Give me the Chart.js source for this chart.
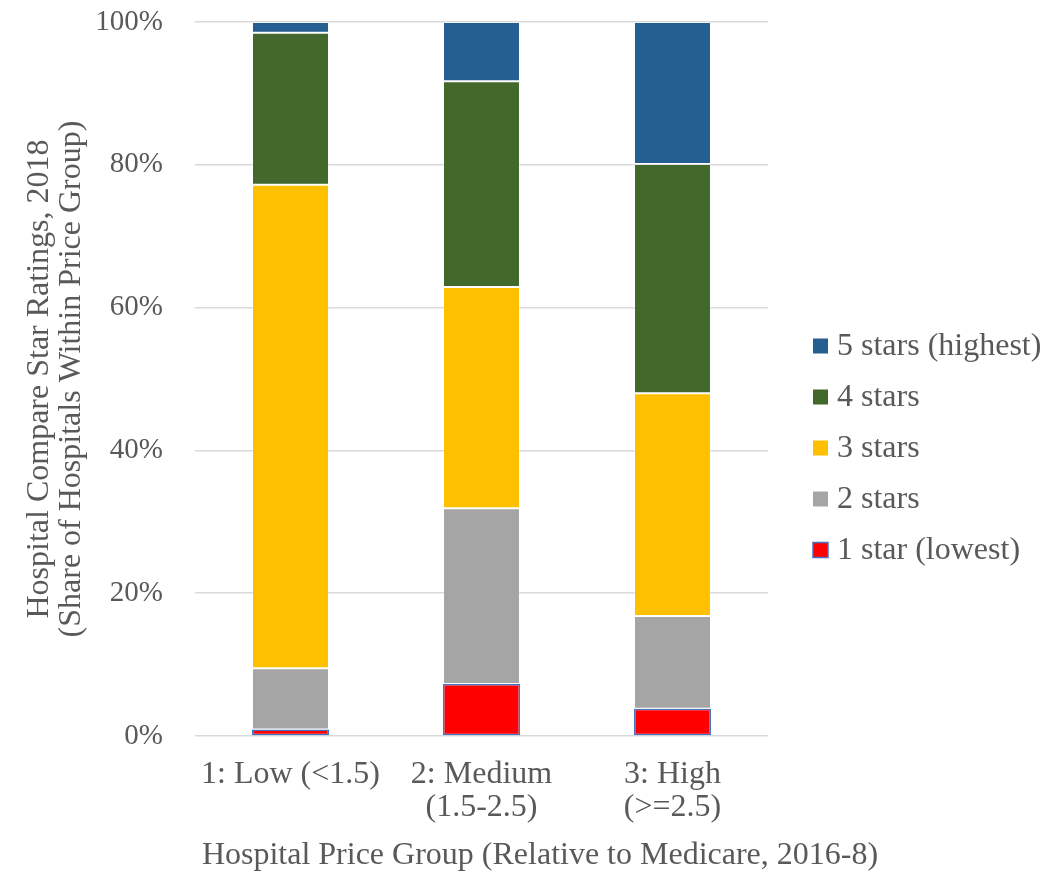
<!DOCTYPE html>
<html>
<head>
<meta charset="utf-8">
<script src="https://cdn.jsdelivr.net/npm/chart.js@4"></script>
<style>
  html, body { margin: 0; padding: 0; background: #ffffff; }
  #wrap { width: 1041px; height: 872px; }
</style>
</head>
<body>
<div id="wrap"><canvas id="chart" width="1041" height="872"></canvas></div>
<script>
// Price groups (x categories); multi-line labels as arrays
const priceGroups = [
  ['1: Low (<1.5)'],
  ['2: Medium', '(1.5-2.5)'],
  ['3: High', '(>=2.5)']
];

// Share of hospitals (%) in each star rating, per price group
const oneStar    = [0.9, 7.3, 3.8];
const twoStars   = [8.6, 24.6, 13.0];
const threeStars = [67.7, 31.0, 31.2];
const fourStars  = [21.3, 28.8, 32.1];
const fiveStars  = [1.5, 8.3, 19.9];

const yTicks = [0, 20, 40, 60, 80, 100];
const xTitle = 'Hospital Price Group (Relative to Medicare, 2016-8)';
const yTitle = ['Hospital Compare Star Ratings, 2018', '(Share of Hospitals Within Price Group)'];

const serif = "'Liberation Serif', 'Times New Roman', serif";
const textColor = '#595959';

const edge = 'rgba(255,255,255,0.3)';
const datasets = [
  { label: '1 star (lowest)', data: oneStar, backgroundColor: '#FF0000', borderColor: '#4472C4', borderWidth: 1.5 },
  { label: '2 stars', data: twoStars, backgroundColor: '#A5A5A5', borderColor: edge, borderWidth: 1 },
  { label: '3 stars', data: threeStars, backgroundColor: '#FFC000', borderColor: edge, borderWidth: 1 },
  { label: '4 stars', data: fourStars, backgroundColor: '#43682B', borderColor: edge, borderWidth: 1 },
  { label: '5 stars (highest)', data: fiveStars, backgroundColor: '#255E91', borderColor: edge, borderWidth: 1 }
].map(d => Object.assign(d, { barPercentage: 0.403, categoryPercentage: 1.0, borderSkipped: false }));

// Legend to the right of the plot (highest rating on top) and the x-axis title
const annotations = {
  id: 'annotations',
  afterDraw(chart) {
    const { ctx, chartArea } = chart;
    const box = 15, gap = 9, step = 51, firstY = 346;
    const x = chartArea.right + 45;
    ctx.save();
    ctx.font = '32px ' + serif;
    ctx.textBaseline = 'middle';
    ctx.textAlign = 'left';
    chart.data.datasets.slice().reverse().forEach((ds, i) => {
      const y = firstY + i * step;
      ctx.fillStyle = ds.backgroundColor;
      ctx.fillRect(x, y - box / 2, box, box);
      if (ds.borderWidth > 1) {
        ctx.strokeStyle = ds.borderColor;
        ctx.lineWidth = 1.5;
        ctx.strokeRect(x, y - box / 2, box, box);
      }
      ctx.fillStyle = textColor;
      ctx.fillText(ds.label, x + box + gap, y + 1);
    });
    ctx.textAlign = 'center';
    ctx.fillText(xTitle, 540, chart.height - 16);
    ctx.restore();
  }
};

new Chart(document.getElementById('chart'), {
  type: 'bar',
  data: { labels: priceGroups, datasets },
  plugins: [annotations],
  options: {
    responsive: false,
    animation: false,
    layout: { padding: { top: 22, right: 273, bottom: 0, left: 24 } },
    plugins: {
      tooltip: { enabled: false },
      legend: { display: false }
    },
    scales: {
      x: {
        stacked: true,
        grid: { display: false, drawTicks: false },
        border: { display: false },
        afterFit: s => { s.height = 136; s.paddingLeft = 0; s.paddingRight = 0; },
        ticks: {
          color: textColor,
          padding: 22,
          maxRotation: 0,
          autoSkip: false,
          font: { family: serif, size: 32, lineHeight: 1.03 }
        }
      },
      y: {
        stacked: true,
        min: 0,
        max: 100,
        afterBuildTicks: axis => { axis.ticks = yTicks.map(v => ({ value: v })); },
        afterFit: s => { s.width = 171; s.paddingTop = 0; s.paddingBottom = 0; },
        grid: { color: '#D9D9D9', lineWidth: 1.5, drawTicks: false },
        border: { display: false },
        ticks: {
          color: textColor,
          padding: 32,
          font: { family: serif, size: 29 },
          callback: v => v + '%'
        },
        title: {
          display: true,
          text: yTitle,
          color: textColor,
          padding: { top: 0, bottom: 7 },
          font: { family: serif, size: 32, lineHeight: 1.0 }
        }
      }
    }
  }
});
</script>
</body>
</html>
